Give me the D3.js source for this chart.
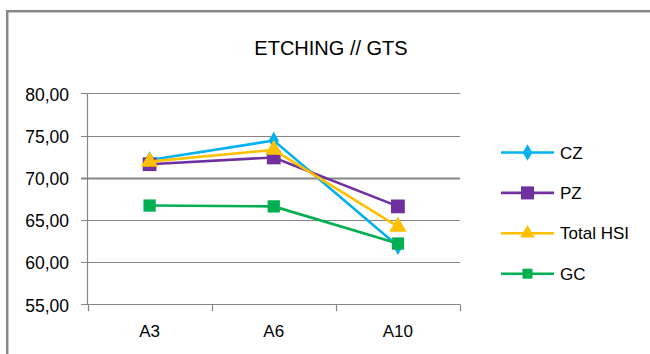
<!DOCTYPE html>
<html>
<head>
<meta charset="utf-8">
<script src="https://cdn.jsdelivr.net/npm/d3@7"></script>
<style>
  body { margin: 0; background: #fff; }
  svg text { font-family: "Liberation Sans", Arial, sans-serif; fill: #000; }
</style>
</head>
<body>
<div id="chart"></div>
<script>
const categories = ['A3', 'A6', 'A10'];
const seriesNames = ['CZ', 'PZ', 'Total HSI', 'GC'];
const czValues = [72.1, 74.4, 61.9];
const pzValues = [71.6, 72.4, 66.6];
const hsiValues = [71.9, 73.3, 64.2];
const gcValues = [66.7, 66.6, 62.2];
const yTicks = [55, 60, 65, 70, 75, 80];

const width = 650, height = 354;
const svg = d3.select('#chart').append('svg')
  .attr('width', width).attr('height', height);

// outer chart frame
svg.append('rect')
  .attr('x', 7.2).attr('y', 11.2)
  .attr('width', 700).attr('height', 400)
  .attr('fill', '#fff').attr('stroke', '#888').attr('stroke-width', 2.5);

svg.append('text')
  .attr('x', 331).attr('y', 55)
  .attr('text-anchor', 'middle')
  .style('font-size', '20px')
  .text('ETCHING // GTS');

const x = d3.scaleBand().domain(categories).range([87.5, 460]);
const y = d3.scaleLinear().domain([55, 80]).range([304.3, 93.3]);

// gridlines
svg.append('g').selectAll('line')
  .data(yTicks).join('line')
  .attr('x1', 81).attr('x2', 460)
  .attr('y1', d => Math.round(y(d)) + 0.5).attr('y2', d => Math.round(y(d)) + 0.5)
  .attr('stroke', '#858585')
  .attr('stroke-width', d => d === 70 ? 2 : 1.2);

// y axis line
svg.append('line')
  .attr('x1', 87.5).attr('x2', 87.5)
  .attr('y1', y(80)).attr('y2', y(55))
  .attr('stroke', '#858585').attr('stroke-width', 1.2);

// y labels
svg.append('g').selectAll('text')
  .data(yTicks).join('text')
  .attr('x', 69).attr('y', d => y(d) + 1)
  .attr('dy', '0.36em')
  .attr('text-anchor', 'end')
  .style('font-size', '17.5px')
  .text(d => d3.format('.2f')(d).replace('.', ','));

// x category boundary ticks
const bounds = [0, 1, 2, 3].map(i => x.range()[0] + i * x.bandwidth());
svg.append('g').selectAll('line')
  .data(bounds).join('line')
  .attr('x1', d => Math.round(d) + 0.5).attr('x2', d => Math.round(d) + 0.5)
  .attr('y1', y(55)).attr('y2', y(55) + 7)
  .attr('stroke', '#858585').attr('stroke-width', 1.2);

// x labels
svg.append('g').selectAll('text')
  .data(categories).join('text')
  .attr('x', d => x(d) + x.bandwidth() / 2).attr('y', 337)
  .attr('text-anchor', 'middle')
  .style('font-size', '17px')
  .text(d => d);

const series = [
  { name: 'CZ', values: czValues, color: '#00B0F0', shape: d3.symbolDiamond, size: 90, legendSize: 80 },
  { name: 'PZ', values: pzValues, color: '#7030A0', shape: d3.symbolSquare, size: 190, legendSize: 170 },
  { name: 'Total HSI', values: hsiValues, color: '#FFC000', shape: d3.symbolTriangle, size: 130, legendSize: 90 },
  { name: 'GC', values: gcValues, color: '#00B050', shape: d3.symbolSquare, size: 150, legendSize: 100 }
];

const line = d3.line()
  .x((d, i) => x(categories[i]) + x.bandwidth() / 2)
  .y(d => y(d));

series.forEach(s => {
  const g = svg.append('g');
  g.append('path')
    .attr('d', line(s.values))
    .attr('fill', 'none').attr('stroke', s.color).attr('stroke-width', 2.6);
  g.selectAll('path.m')
    .data(s.values).join('path')
    .attr('class', 'm')
    .attr('transform', (d, i) => `translate(${x(categories[i]) + x.bandwidth() / 2},${y(d)})`)
    .attr('d', d3.symbol().type(s.shape).size(s.size))
    .attr('fill', s.color);
});

// legend
const legend = svg.append('g').attr('transform', 'translate(501,152.5)');
series.forEach((s, i) => {
  const item = legend.append('g').attr('transform', `translate(0,${i * 40.4})`);
  item.append('line').attr('x1', 0).attr('x2', 53).attr('y1', 0).attr('y2', 0)
    .attr('stroke', s.color).attr('stroke-width', 2.6);
  item.append('path').attr('transform', 'translate(26.5,0)')
    .attr('d', d3.symbol().type(s.shape).size(s.legendSize))
    .attr('fill', s.color);
  item.append('text').attr('x', 59).attr('y', 0).attr('dy', '0.36em')
    .style('font-size', '17px')
    .text(s.name);
});
</script>
</body>
</html>
